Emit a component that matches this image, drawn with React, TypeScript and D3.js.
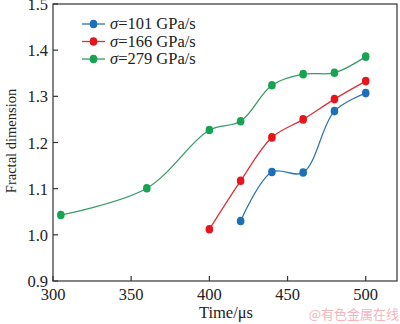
import React from "react";
import * as d3 from "d3";

const xTicks = [300, 350, 400, 450, 500];
const yTicks = [0.9, 1.0, 1.1, 1.2, 1.3, 1.4, 1.5];

const seriesNames = ["101 GPa/s", "166 GPa/s", "279 GPa/s"];
const seriesColors = ["#1f6fb8", "#e8141c", "#17a352"];
const lineColors = ["#2f73ad", "#d8323a", "#3a9a66"];

const blueX = [420, 440, 460, 480, 500];
const blueY = [1.030, 1.136, 1.135, 1.268, 1.307];
const redX = [400, 420, 440, 460, 480, 500];
const redY = [1.012, 1.117, 1.211, 1.250, 1.294, 1.333];
const greenX = [305, 360, 400, 420, 440, 460, 480, 500];
const greenY = [1.043, 1.101, 1.227, 1.246, 1.324, 1.348, 1.351, 1.386];

const W = 400, H = 324;
const L = 53, R = 397, T = 4, B = 281;

export default function App() {
  const x = d3.scaleLinear().domain([300, 520]).range([L, R]);
  const y = d3.scaleLinear().domain([0.9, 1.5]).range([B, T]);
  const series = [
    blueX.map((v, i) => [v, blueY[i]]),
    redX.map((v, i) => [v, redY[i]]),
    greenX.map((v, i) => [v, greenY[i]]),
  ];
  const line = d3
    .line<number[]>()
    .x((d) => x(d[0]))
    .y((d) => y(d[1]))
    .curve(d3.curveCatmullRom.alpha(0.5));
  const font = "'Liberation Serif', 'Times New Roman', serif";
  return (
    <svg width={W} height={H} style={{ position: "absolute", left: 0, top: 0 }}>
      <rect width={W} height={H} fill="#fff" />
      {series.map((s, i) => (
        <g key={i}>
          <path d={line(s) || ""} fill="none" stroke={lineColors[i]} strokeWidth={1.3} />
          {s.map((d, j) => (
            <ellipse key={j} cx={x(d[0])} cy={y(d[1])} rx={3.8} ry={4.3} fill={seriesColors[i]} />
          ))}
        </g>
      ))}
      <rect x={L} y={T} width={R - L} height={B - T} fill="none" stroke="#333" strokeWidth={1.2} />
      {xTicks.map((t) => (
        <g key={t}>
          <line x1={x(t)} x2={x(t)} y1={B} y2={B - 5} stroke="#333" strokeWidth={1.2} />
          <text x={x(t)} y={B + 19} textAnchor="middle" fontFamily={font} fontSize={16.5} fill="#222">
            {t}
          </text>
        </g>
      ))}
      {yTicks.map((t) => (
        <g key={t}>
          <line x1={L} x2={L + 5} y1={y(t)} y2={y(t)} stroke="#333" strokeWidth={1.2} />
          <text x={L - 5} y={y(t) + 6} textAnchor="end" fontFamily={font} fontSize={16.5} fill="#222">
            {t.toFixed(1)}
          </text>
        </g>
      ))}
      <text x={226} y={318} textAnchor="middle" fontFamily={font} fontSize={16.5} fill="#222">
        Time/μs
      </text>
      <text
        transform={`translate(16,141) rotate(-90)`}
        textAnchor="middle"
        fontFamily={font}
        fontSize={14.5}
        fill="#222"
      >
        Fractal dimension
      </text>
      {seriesNames.map((n, i) => {
        const ly = 24 + i * 17.5;
        return (
          <g key={n}>
            <line x1={82} x2={105} y1={ly} y2={ly} stroke={lineColors[i]} strokeWidth={1.3} />
            <ellipse cx={93.5} cy={ly} rx={3.8} ry={4.3} fill={seriesColors[i]} />
            <text x={110} y={ly + 5} fontFamily={font} fontSize={16.5} fill="#222">
              <tspan fontStyle="italic">σ</tspan>=
              {n}
            </text>
          </g>
        );
      })}
      <text x={399} y={319} textAnchor="end" fontFamily="'Noto Sans CJK SC', sans-serif" fontSize={13} fill="#f4b5bc">
        @有色金属在线
      </text>
    </svg>
  );
}
